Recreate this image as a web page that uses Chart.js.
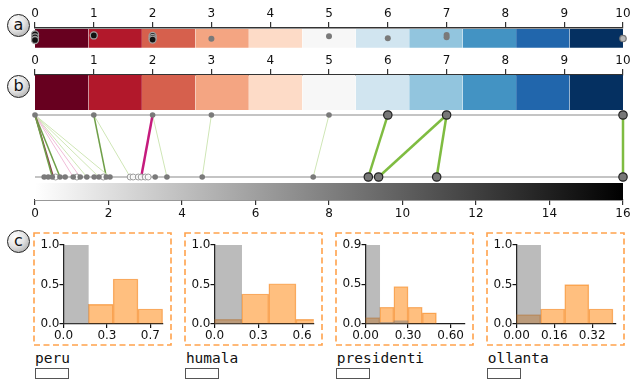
<!DOCTYPE html>
<html>
<head>
<meta charset="utf-8">
<script src="https://cdn.jsdelivr.net/npm/chart.js@4.4.0/dist/chart.umd.min.js"></script>
<style>
  html, body { margin: 0; padding: 0; background: #fff; }
  #page { position: relative; width: 630px; height: 382px; overflow: hidden; font-family: "DejaVu Sans", sans-serif; }
  #page canvas { position: absolute; }
  .tag { position: absolute; width: 21px; height: 21px; border: 1px solid #222; border-radius: 50%;
         background: radial-gradient(circle at 35% 30%, #fff 0%, #e4e4e4 45%, #9a9a9a 100%);
         text-align: center; line-height: 19px; font-size: 16px; color: #111; }
  .word { position: absolute; font-family: "DejaVu Sans Mono", monospace; font-size: 14.5px; line-height: 1; color: #111; }
  .field { position: absolute; width: 32px; height: 9px; border: 1.5px solid #555; background: #fff; }
</style>
</head>
<body>
<div id="page">
  <div class="tag" style="left:7px;top:14px">a</div>
  <div class="tag" style="left:7px;top:75px">b</div>
  <div class="tag" style="left:7px;top:230px">c</div>
  <canvas id="chartA" width="630" height="54" style="left:0;top:0"></canvas>
  <canvas id="chartB" width="630" height="172" style="left:0;top:54px"></canvas>
</div>
<script>
// score scale (0..10) split in 11 classes
const scoreMax = 10;
const scoreTicks = [0, 1, 2, 3, 4, 5, 6, 7, 8, 9, 10];
const classColours = ['#67001f', '#b2182b', '#d6604d', '#f4a582', '#fddbc7', '#f7f7f7',
                      '#d1e5f0', '#92c5de', '#4393c3', '#2166ac', '#053061'];

// panel a: word scores with vertical jitter
const aDarkScores = [0, 0, 0, 1, 2, 2, 2];
const aDarkJitter = [0.69, 0.55, 0.42, 0.64, 0.62, 0.52, 0.44];
const aGreyScores = [3, 5, 6, 7, 7];
const aGreyJitter = [0.48, 0.6, 0.51, 0.66, 0.55];
const aFadedScores = [10];
const aFadedJitter = [0.49];

// panel b: top row (scores), bottom row (distances 0..16)
const gradMax = 16;
const gradTicks = [0, 2, 4, 6, 8, 10, 12, 14, 16];
const topSmall = [0, 1, 2, 3, 5];
const topBig = [6, 7, 10];
const bottomSmall = [0.25, 0.36, 0.47, 0.68, 0.82, 1.04, 1.23, 1.41, 1.61, 1.74, 1.94, 2.04, 3.27, 3.59, 4.55, 7.57];
const bottomFaded = [0.56, 1.14, 1.86, 2.59, 2.67, 2.81, 2.89, 3.0, 3.08];
const bottomBig = [9.07, 9.35, 10.93, 16];
const edgeFrom   = [0, 0, 0, 0, 0, 0, 0, 0, 1, 1, 2, 2, 3, 5, 6, 7, 7, 10];
const edgeTo     = [0.47, 0.5, 0.68, 1.04, 1.23, 1.41, 1.74, 2.04, 1.94, 2.59, 2.89, 3.59, 4.55, 7.57, 9.07, 9.35, 10.93, 16];
const edgeWeight = [0.6, -0.6, 0.5, -0.3, -0.2, 0.2, 0.2, 0.15, 0.6, 0.2, -1, 0.2, 0.2, 0.2, 1, 1, 1, 1];

// panel c: histograms per word
const words = ['peru', 'humala', 'presidenti', 'ollanta'];
const binEdges = [
  [0, 0.2, 0.4, 0.6, 0.8],
  [0, 0.186, 0.372, 0.558, 0.744],
  [0, 0.1, 0.2, 0.3, 0.4, 0.5, 0.6, 0.7],
  [0, 0.102, 0.204, 0.306, 0.408]
];
const greyHeights = [
  [1.0, 0, 0, 0],
  [1.0, 0, 0, 0],
  [0.99, 0.02, 0.04, 0, 0, 0, 0],
  [1.0, 0, 0, 0]
];
const orangeHeights = [
  [0, 0.25, 0.57, 0.19],
  [0.06, 0.38, 0.51, 0.06],
  [0.08, 0.21, 0.47, 0.21, 0.14, 0, 0],
  [0.12, 0.19, 0.5, 0.19]
];
const xMax = [0.8, 0.68, 0.7, 0.42];
const xTickValues = [[0, 0.35, 0.7], [0, 0.3, 0.6], [0, 0.3, 0.6], [0, 0.16, 0.32]];
const xTickLabels = [['0.0', '0.3', '0.7'], ['0.0', '0.3', '0.6'], ['0.00', '0.30', '0.60'], ['0.00', '0.16', '0.32']];
const yMax = [1.0, 1.0, 0.99, 1.0];
const yTickValues = [[0, 0.5, 1.0], [0, 0.5, 1.0], [0, 0.5, 0.99], [0, 0.5, 1.0]];
const yTickLabels = [['0.0', '0.5', '1.0'], ['0.0', '0.5', '1.0'], ['0.0', '0.5', '0.9'], ['0.0', '0.5', '1.0']];

const tickFont = { family: 'DejaVu Sans', size: 12 };
const axisInk = '#333';

// fix an axis box size so the plot area lands where it should
function pinAxis(size) {
  return s => {
    if (s.isHorizontal()) s.height = size; else s.width = size;
    s.paddingLeft = s.paddingRight = s.paddingTop = s.paddingBottom = 0;
  };
}

function scoreAxis(height) {
  return {
    type: 'linear', position: 'top', min: 0, max: scoreMax,
    afterFit: pinAxis(height),
    afterBuildTicks: s => { s.ticks = scoreTicks.map(v => ({ value: v })); },
    ticks: { autoSkip: false, maxRotation: 0, padding: 1, color: '#111', font: tickFont },
    grid: { drawOnChartArea: false, tickLength: 6, color: axisInk, lineWidth: 1.2 },
    border: { color: axisInk, width: 1.5 }
  };
}

function classBands(xAxisID, yTop, yBottom) {
  const w = scoreMax / classColours.length;
  return classColours.map((c, i) => ({
    type: 'line', xAxisID, order: 5,
    data: [{ x: i * w, y: yTop }, { x: (i + 1) * w, y: yTop }],
    fill: { value: yBottom }, backgroundColor: c, borderWidth: 0, pointRadius: 0
  }));
}

function dots(xAxisID, values, ys, radius, fillC, strokeC, strokeW) {
  return {
    type: 'scatter', xAxisID, order: 0, clip: false,
    data: values.map((v, i) => ({ x: v, y: Array.isArray(ys) ? ys[i] : ys })),
    pointRadius: radius, pointBackgroundColor: fillC, pointBorderColor: strokeC, pointBorderWidth: strokeW
  };
}

// ---- panel a ----
new Chart(document.getElementById('chartA'), {
  type: 'line',
  data: {
    datasets: [
      dots('x', aDarkScores, aDarkJitter, 3.5, '#111', '#a0a0a0', 1.3),
      dots('x', aGreyScores, aGreyJitter, 3, '#7a7a7a', '#7a7a7a', 0),
      dots('x', aFadedScores, aFadedJitter, 3.2, '#b8b8b8', '#777', 1.2),
      ...classBands('x', 0.95, 0.05)
    ]
  },
  options: {
    responsive: false, animation: false, events: [],
    layout: { padding: { left: 35, right: 7, top: 0, bottom: 0 } },
    plugins: { legend: { display: false }, tooltip: { enabled: false } },
    scales: {
      x: scoreAxis(28),
      y: { type: 'linear', min: 0, max: 1, display: false }
    }
  }
});

// ---- panel b ----
const rowTop = 0.68, rowBottom = 0.184, barBottom = 0.72, gradTop = 0.136;
const toGrad = v => v * gradMax / scoreMax;

function edgeStyle(w) {
  const a = Math.abs(w);
  if (w > 0) {
    if (a >= 0.9) return ['#7fbc41', 2.5];
    if (a >= 0.5) return ['#6f9f48', 1.5];
    return ['#cfe6b6', 1];
  }
  if (a >= 0.9) return ['#c51b7d', 2.5];
  if (a >= 0.5) return ['#8a3c4a', 1.5];
  return ['#f0bcd8', 1];
}

const edgeSets = edgeFrom.map((f, i) => {
  const [c, lw] = edgeStyle(edgeWeight[i]);
  return {
    type: 'line', xAxisID: 'x', order: Math.abs(edgeWeight[i]) >= 0.9 ? 1 : 2, clip: false,
    data: [{ x: toGrad(f), y: rowTop }, { x: edgeTo[i], y: rowBottom }],
    borderColor: c, borderWidth: lw, pointRadius: 0, fill: false
  };
});

new Chart(document.getElementById('chartB'), {
  type: 'line',
  data: {
    datasets: [
      dots('xTop', topBig, rowTop, 4.2, '#777', '#222', 1.2),
      dots('xTop', topSmall, rowTop, 2.8, '#7a7a7a', '#7a7a7a', 0),
      dots('x', bottomBig, rowBottom, 4.2, '#777', '#222', 1.2),
      dots('x', bottomSmall, rowBottom, 2.8, '#7a7a7a', '#7a7a7a', 0),
      dots('x', bottomFaded, rowBottom, 3, 'rgba(255,255,255,0.85)', '#9a9a9a', 1),
      ...edgeSets,
      { type: 'line', xAxisID: 'xTop', order: 3, data: [{ x: 0, y: rowTop }, { x: scoreMax, y: rowTop }],
        borderColor: '#8a8a8a', borderWidth: 1.2, pointRadius: 0, fill: false },
      { type: 'line', xAxisID: 'x', order: 3, data: [{ x: 0, y: rowBottom }, { x: gradMax, y: rowBottom }],
        borderColor: '#8a8a8a', borderWidth: 1.2, pointRadius: 0, fill: false },
      { type: 'line', xAxisID: 'x', order: 5, data: [{ x: 0, y: gradTop }, { x: gradMax, y: gradTop }],
        fill: { value: 0 }, borderWidth: 0, pointRadius: 0,
        backgroundColor: ctx => {
          const area = ctx.chart.chartArea;
          if (!area) return '#888';
          const g = ctx.chart.ctx.createLinearGradient(area.left, 0, area.right, 0);
          g.addColorStop(0, '#ffffff');
          g.addColorStop(1, '#000000');
          return g;
        } },
      ...classBands('xTop', 1, barBottom)
    ]
  },
  options: {
    responsive: false, animation: false, events: [],
    layout: { padding: { left: 35, right: 7, top: 0, bottom: 0 } },
    plugins: { legend: { display: false }, tooltip: { enabled: false } },
    scales: {
      xTop: scoreAxis(21),
      x: {
        type: 'linear', position: 'bottom', min: 0, max: gradMax,
        afterFit: pinAxis(26),
        afterBuildTicks: s => { s.ticks = gradTicks.map(v => ({ value: v })); },
        ticks: { autoSkip: false, maxRotation: 0, padding: 2, color: '#111', font: tickFont },
        grid: { drawOnChartArea: false, tickLength: 5, color: axisInk, lineWidth: 1.2 },
        border: { color: axisInk, width: 1.5 }
      },
      y: { type: 'linear', min: 0, max: 1, display: false }
    }
  }
});

// ---- panel c ----
const dashedFrame = {
  id: 'dashedFrame',
  afterDraw(chart) {
    const c = chart.ctx;
    c.save();
    c.strokeStyle = '#ffa24c';
    c.lineWidth = 1.6;
    c.setLineDash([6, 3.5]);
    c.strokeRect(1, 1, chart.width - 2, chart.height - 2);
    c.restore();
  }
};

const page = document.getElementById('page');
words.forEach((word, k) => {
  const left = 33 + k * 150.9;
  const cv = document.createElement('canvas');
  cv.width = 139; cv.height = 114;
  cv.style.left = left + 'px'; cv.style.top = '232px';
  page.appendChild(cv);

  const edges = binEdges[k];
  const centres = edges.slice(0, -1).map((e, i) => (e + edges[i + 1]) / 2);

  new Chart(cv, {
    type: 'bar',
    data: {
      datasets: [
        { data: centres.map((x, i) => ({ x, y: greyHeights[k][i] })), grouped: false,
          backgroundColor: 'rgba(120,120,120,0.5)', borderWidth: 0,
          barPercentage: 1, categoryPercentage: 1, order: 0 },
        { data: centres.map((x, i) => ({ x, y: orangeHeights[k][i] })), grouped: false,
          backgroundColor: 'rgba(255,127,0,0.5)', borderColor: 'rgba(240,125,20,0.55)', borderWidth: 0.8,
          barPercentage: 1, categoryPercentage: 1, order: 1 }
      ]
    },
    options: {
      responsive: false, animation: false, events: [],
      layout: { padding: { left: 0, right: 9.2, top: 13, bottom: 0 } },
      plugins: { legend: { display: false }, tooltip: { enabled: false } },
      scales: {
        x: {
          type: 'linear', min: 0, max: xMax[k], offset: false,
          afterFit: pinAxis(22),
          afterBuildTicks: s => { s.ticks = xTickValues[k].map(v => ({ value: v })); },
          ticks: { autoSkip: false, maxRotation: 0, padding: 1, color: '#111', font: tickFont,
                   callback: (v, i) => xTickLabels[k][i] },
          grid: { offset: false, drawOnChartArea: false, tickLength: 4, color: '#111', lineWidth: 1.2 },
          border: { color: '#111', width: 1.3 }
        },
        y: {
          type: 'linear', min: 0, max: yMax[k],
          afterFit: pinAxis(30.5),
          afterBuildTicks: s => { s.ticks = yTickValues[k].map(v => ({ value: v })); },
          ticks: { autoSkip: false, padding: 0, color: '#111', font: tickFont,
                   callback: (v, i) => yTickLabels[k][i] },
          grid: { drawOnChartArea: false, tickLength: 4, color: '#111', lineWidth: 1.2 },
          border: { color: '#111', width: 1.3 }
        }
      }
    },
    plugins: [dashedFrame]
  });

  const label = document.createElement('div');
  label.className = 'word';
  label.textContent = word;
  label.style.left = (left + 2) + 'px';
  label.style.top = '351px';
  page.appendChild(label);

  const field = document.createElement('div');
  field.className = 'field';
  field.style.left = (left + 1.5) + 'px';
  field.style.top = '368px';
  page.appendChild(field);
});
</script>
</body>
</html>
